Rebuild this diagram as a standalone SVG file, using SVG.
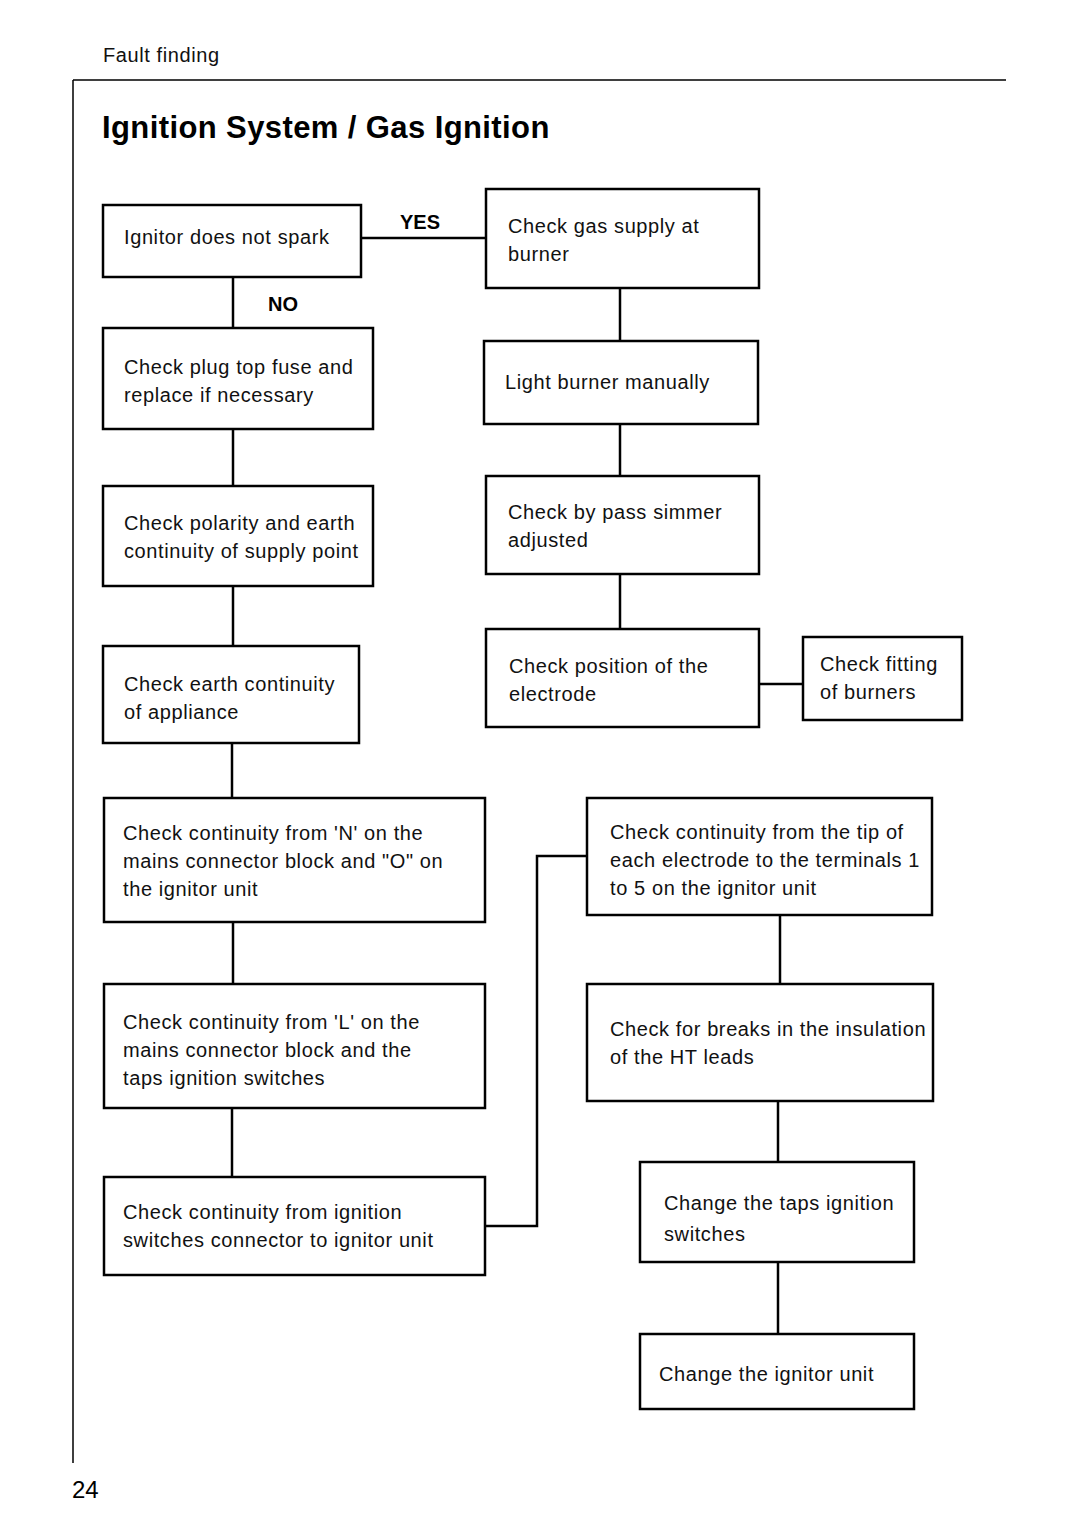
<svg xmlns="http://www.w3.org/2000/svg" width="1080" height="1529" viewBox="0 0 1080 1529">
<style>
.box{fill:#fff;stroke:#000;stroke-width:2.5}
.ln{fill:none;stroke:#000;stroke-width:2.5}
.t{font-family:"Liberation Sans",Arial,sans-serif;font-size:20px;letter-spacing:0.6px;fill:#111}
.lab{font-family:"Liberation Sans",Arial,sans-serif;font-size:20px;font-weight:bold;fill:#000}
</style>
<rect width="1080" height="1529" fill="#fff"/>
<g id="page">
<text class="t" x="103" y="62">Fault finding</text>
<path d="M73 80H1006M73 80V1463" fill="none" stroke="#000" stroke-width="1.5"/>
<text x="102" y="138" font-family="Liberation Sans,Arial,sans-serif" font-size="31" font-weight="bold" letter-spacing="0.4">Ignition System / Gas Ignition</text>
<text x="72" y="1498" font-family="Liberation Sans,Arial,sans-serif" font-size="24">24</text>
</g>
<g id="connectors">
<path class="ln" d="M361 238H486"/>
<path class="ln" d="M233 277V328"/>
<path class="ln" d="M233 429V486"/>
<path class="ln" d="M233 586V646"/>
<path class="ln" d="M232 743V798"/>
<path class="ln" d="M233 922V984"/>
<path class="ln" d="M232 1108V1177"/>
<path class="ln" d="M485 1226H537V856H587"/>
<path class="ln" d="M620 288V341"/>
<path class="ln" d="M620 424V476"/>
<path class="ln" d="M620 574V629"/>
<path class="ln" d="M759 684H803"/>
<path class="ln" d="M780 915V984"/>
<path class="ln" d="M778 1101V1162"/>
<path class="ln" d="M778 1262V1334"/>
<text class="lab" x="400" y="229">YES</text>
<text class="lab" x="268" y="311">NO</text>
</g>
<g id="n1"><rect class="box" x="103" y="205" width="258" height="72"/><text class="t" x="124" y="244">Ignitor does not spark</text></g>
<g id="n2"><rect class="box" x="486" y="189" width="273" height="99"/><text class="t" x="508" y="233">Check gas supply at</text><text class="t" x="508" y="261">burner</text></g>
<g id="n3"><rect class="box" x="103" y="328" width="270" height="101"/><text class="t" x="124" y="374">Check plug top fuse and</text><text class="t" x="124" y="402">replace if necessary</text></g>
<g id="n4"><rect class="box" x="103" y="486" width="270" height="100"/><text class="t" x="124" y="530">Check polarity and earth</text><text class="t" x="124" y="558">continuity of supply point</text></g>
<g id="n5"><rect class="box" x="103" y="646" width="256" height="97"/><text class="t" x="124" y="691">Check earth continuity</text><text class="t" x="124" y="719">of appliance</text></g>
<g id="n6"><rect class="box" x="104" y="798" width="381" height="124"/><text class="t" x="123" y="840">Check continuity from 'N' on the</text><text class="t" x="123" y="868">mains connector block and "O" on</text><text class="t" x="123" y="896">the ignitor unit</text></g>
<g id="n7"><rect class="box" x="104" y="984" width="381" height="124"/><text class="t" x="123" y="1029">Check continuity from 'L' on the</text><text class="t" x="123" y="1057">mains connector block and the</text><text class="t" x="123" y="1085">taps ignition switches</text></g>
<g id="n8"><rect class="box" x="104" y="1177" width="381" height="98"/><text class="t" x="123" y="1219">Check continuity from ignition</text><text class="t" x="123" y="1247">switches connector to ignitor unit</text></g>
<g id="n9"><rect class="box" x="484" y="341" width="274" height="83"/><text class="t" x="505" y="389">Light burner manually</text></g>
<g id="n10"><rect class="box" x="486" y="476" width="273" height="98"/><text class="t" x="508" y="519">Check by pass simmer</text><text class="t" x="508" y="547">adjusted</text></g>
<g id="n11"><rect class="box" x="486" y="629" width="273" height="98"/><text class="t" x="509" y="673">Check position of the</text><text class="t" x="509" y="701">electrode</text></g>
<g id="n12"><rect class="box" x="803" y="637" width="159" height="83"/><text class="t" x="820" y="671">Check fitting</text><text class="t" x="820" y="699">of burners</text></g>
<g id="n13"><rect class="box" x="587" y="798" width="345" height="117"/><text class="t" x="610" y="839">Check continuity from the tip of</text><text class="t" x="610" y="867">each electrode to the terminals 1</text><text class="t" x="610" y="895">to 5 on the ignitor unit</text></g>
<g id="n14"><rect class="box" x="587" y="984" width="346" height="117"/><text class="t" x="610" y="1036">Check for breaks in the insulation</text><text class="t" x="610" y="1064">of the HT leads</text></g>
<g id="n15"><rect class="box" x="640" y="1162" width="274" height="100"/><text class="t" x="664" y="1210">Change the taps ignition</text><text class="t" x="664" y="1241">switches</text></g>
<g id="n16"><rect class="box" x="640" y="1334" width="274" height="75"/><text class="t" x="659" y="1381">Change the ignitor unit</text></g>
</svg>
